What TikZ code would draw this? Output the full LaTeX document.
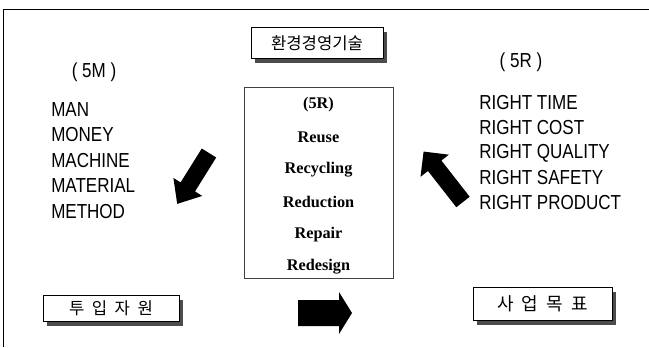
\documentclass[tikz,border=0pt]{standalone}
\usepackage{fontspec}
\setmainfont{Liberation Serif}
\newfontfamily\listfont[FakeStretch=0.84]{Liberation Sans}
\newfontfamily\korfont[WordSpace=2]{Noto Sans CJK KR}
\usetikzlibrary{shadows}

\begin{document}
\begin{tikzpicture}[x=0.75pt, y=-0.75pt,
    listtext/.style={font=\listfont\fontsize{15.2}{18}\selectfont, inner sep=0pt, anchor=west},
    fivertext/.style={font=\bfseries\fontsize{12.2}{14}\selectfont, inner sep=0pt},
    korbox/.style={draw, line width=0.6pt, fill=white, inner sep=0pt,
        drop shadow={shadow xshift=3.2pt, shadow yshift=-3.5pt, fill=black!70, opacity=1}},
    blockarrow/.style={fill=black}]
    \useasboundingbox (0,0) rectangle (649,347);

    % Frame
    \draw[line width=1pt] (3.5,347) -- (3.5,9.5) -- (649,9.5);

    % Title
    \node[korbox, minimum width=99pt, minimum height=23.25pt,
        font=\korfont\fontsize{12.5}{14}\selectfont] (title) at (317,43) {환경경영기술};

    % 5M list
    \node[listtext, anchor=center] (mhead) at (94,72) {( 5M )};
    \foreach \name [count=\i] in {MAN,MONEY,MACHINE,MATERIAL,METHOD}
        \node[listtext] (m\i) at (51, 84+25.5*\i) {\name};

    % 5R list
    \node[listtext, anchor=center] (rhead) at (521,62) {( 5R )};
    \foreach \name [count=\i] in {RIGHT TIME,RIGHT COST,RIGHT QUALITY,RIGHT SAFETY,RIGHT PRODUCT}
        \node[listtext] (r\i) at (479, 78+25*\i) {\name};

    % Center box
    \node[draw=black!75, line width=0.6pt, minimum width=111.75pt, minimum height=143.25pt] (core) at (318.5,182.5) {};
    \foreach \word [count=\i from 0] in {{(5R)},Reuse,Recycling,Reduction,Repair,Redesign}
        \node[fivertext] (c\i) at (318.5, 105+32.4*\i) {\word};

    % Bottom boxes
    \node[korbox, minimum width=102pt, minimum height=19.5pt,
        font=\korfont\fontsize{12.5}{14}\selectfont] (input) at (111,308) {투 입 자 원};
    \node[korbox, minimum width=104.25pt, minimum height=24.75pt,
        font=\korfont\fontsize{13.5}{15}\selectfont] (goal) at (542.5,303.5) {사 업 목 표};

    % Block arrows
    \fill[blockarrow, shift={(209,153)}, rotate=238]
        (0,-8.5) -- (40,-8.5) -- (40,-17) -- (60,0) -- (40,17) -- (40,8.5) -- (0,8.5) -- cycle;
    \fill[blockarrow, shift={(463,202)}, rotate=128]
        (0,-8.5) -- (46,-8.5) -- (46,-18) -- (64,0) -- (46,18) -- (46,8.5) -- (0,8.5) -- cycle;
    \fill[blockarrow, shift={(298,313)}]
        (0,-13) -- (41,-13) -- (41,-21) -- (54,0) -- (41,21) -- (41,13) -- (0,13) -- cycle;
\end{tikzpicture}
\end{document}
